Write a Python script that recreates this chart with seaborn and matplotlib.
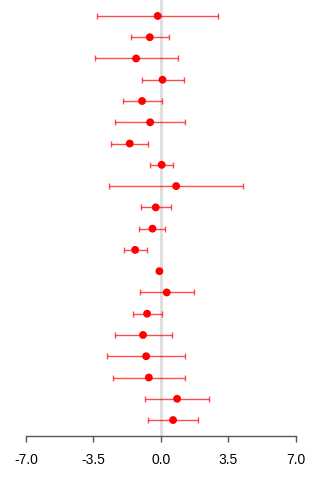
import matplotlib
matplotlib.use("Agg")
import matplotlib.pyplot as plt
import seaborn as sns
import pandas as pd
import numpy as np

# Estimates with lower/upper confidence limits, one row per study
estimate = [-0.16, -0.57, -1.28, 0.09, -0.97, -0.55, -1.61, 0.05, 0.80, -0.26,
            -0.43, -1.33, -0.07, 0.31, -0.71, -0.92, -0.76, -0.62, 0.85, 0.64]
lower = [-3.31, -1.56, -3.41, -1.00, -1.97, -2.36, -2.58, -0.54, -2.67, -1.02,
         -1.11, -1.92, -0.10, -1.06, -1.45, -2.37, -2.77, -2.46, -0.80, -0.66]
upper = [2.98, 0.43, 0.88, 1.19, 0.05, 1.25, -0.66, 0.64, 4.26, 0.55,
         0.24, -0.73, -0.04, 1.71, 0.05, 0.57, 1.26, 1.25, 2.51, 1.94]
x_ticks = [-7.0, -3.5, 0.0, 3.5, 7.0]

df = pd.DataFrame({"row": np.arange(len(estimate)), "est": estimate,
                   "lo": lower, "hi": upper})

sns.set_style("white")
plt.rcParams["font.family"] = ["Liberation Sans", "DejaVu Sans"]

fig = plt.figure(figsize=(3.2, 4.8), dpi=100)
ax = fig.add_axes([26 / 320, 1 - 436 / 480, 269.5 / 320, 436 / 480])

# reference line at zero
ax.axvline(0, color="#dddddd", lw=2, zorder=0)

# confidence intervals
ax.errorbar(df["est"], df["row"],
            xerr=[df["est"] - df["lo"], df["hi"] - df["est"]],
            fmt="none", ecolor="red", alpha=0.7, elinewidth=1.0,
            capsize=1.9, capthick=1.0, zorder=2)

# point estimates
sns.scatterplot(data=df, x="est", y="row", color="red", s=32,
                edgecolor="none", ax=ax, zorder=3)

ax.set_xlim(-7, 7)
ax.set_ylim(len(estimate) - 0.25, -0.75)
ax.set_xticks(x_ticks)
ax.set_xticklabels([f"{t:.1f}" for t in x_ticks])
ax.set_yticks([])
ax.set_xlabel("")
ax.set_ylabel("")

for side in ["top", "left", "right"]:
    ax.spines[side].set_visible(False)
ax.spines["bottom"].set_color("#555555")
ax.spines["bottom"].set_linewidth(1)
ax.tick_params(axis="x", direction="out", length=4, width=1, color="#555555",
               labelsize=10, labelcolor="black", pad=8, bottom=True)

fig.savefig("out.png", dpi=100)
